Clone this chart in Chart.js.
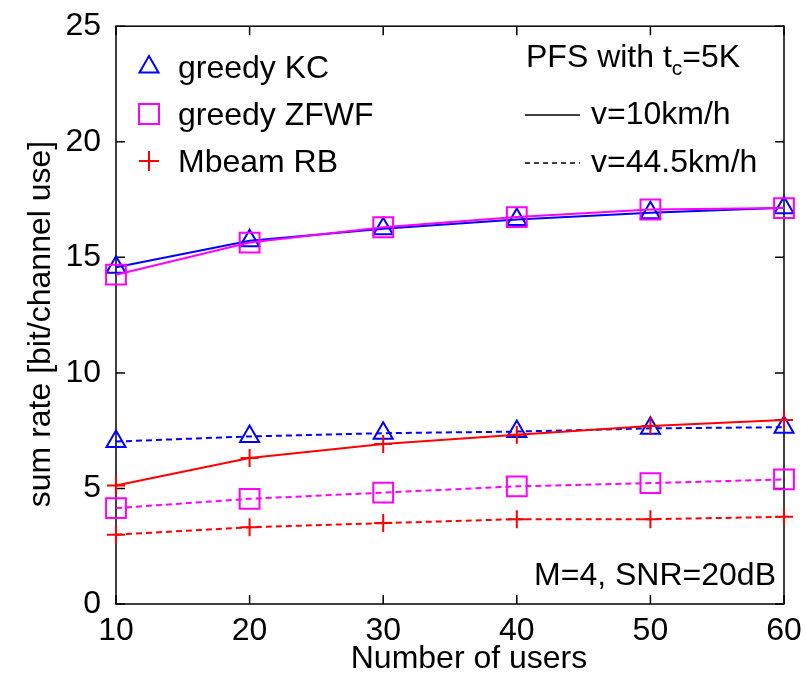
<!DOCTYPE html>
<html lang="en">
<head>
  <meta charset="UTF-8" />
  <title>Sum rate vs number of users</title>
  <script src="https://cdn.jsdelivr.net/npm/chart.js"></script>
  <style>
    body { margin: 0; background: #fff; }
    #wrap { position: relative; width: 806px; height: 673px; }
  </style>
</head>
<body>
  <div id="wrap"><canvas id="rateChart"></canvas></div>

  <script>
    // number of users on the x axis
    const users = [10, 20, 30, 40, 50, 60];

    // v = 10 km/h (solid)
    const kcSlow    = [14.57, 15.72, 16.24, 16.64, 16.93, 17.15];
    const zfwfSlow  = [14.25, 15.64, 16.30, 16.74, 17.07, 17.13];
    const mbeamSlow = [5.13, 6.32, 6.92, 7.32, 7.70, 7.96];

    // v = 44.5 km/h (dashed)
    const kcFast    = [7.03, 7.25, 7.39, 7.46, 7.60, 7.65];
    const zfwfFast  = [4.15, 4.55, 4.82, 5.09, 5.23, 5.39];
    const mbeamFast = [3.00, 3.32, 3.50, 3.67, 3.67, 3.77];

    const xTicks = [10, 20, 30, 40, 50, 60];
    const yTicks = [0, 5, 10, 15, 20, 25];

    const BLUE = '#0000ff', MAGENTA = '#ff00ff', RED = '#ff0000';
    const FONT = "'Liberation Sans', Arial, sans-serif";
    const DASH = [6, 4];

    const toPoints = vals => users.map((u, i) => ({ x: u, y: vals[i] }));

    function series(label, vals, color, style, radius, dashed) {
      return {
        label: label,
        data: toPoints(vals),
        borderColor: color,
        borderWidth: 2,
        borderDash: dashed ? DASH : [],
        pointStyle: style,
        pointRadius: radius,
        pointBorderColor: color,
        pointBackgroundColor: 'rgba(0,0,0,0)',
        pointBorderWidth: 2,
        fill: false,
        tension: 0,
        clip: false
      };
    }

    // box, inward ticks on all four sides, axis titles
    const framePlugin = {
      id: 'frame',
      beforeDatasetsDraw(chart) {
        const { ctx, chartArea: a, scales } = chart;
        const len = 9;
        ctx.save();
        ctx.strokeStyle = '#000';
        ctx.lineWidth = 1.5;
        ctx.strokeRect(a.left, a.top, a.right - a.left, a.bottom - a.top);
        ctx.beginPath();
        xTicks.forEach(v => {
          const px = scales.x.getPixelForValue(v);
          ctx.moveTo(px, a.bottom); ctx.lineTo(px, a.bottom - len);
          ctx.moveTo(px, a.top); ctx.lineTo(px, a.top + len);
        });
        yTicks.forEach(v => {
          const py = scales.y.getPixelForValue(v);
          ctx.moveTo(a.left, py); ctx.lineTo(a.left + len, py);
          ctx.moveTo(a.right, py); ctx.lineTo(a.right - len, py);
        });
        ctx.stroke();

        ctx.fillStyle = '#000';
        ctx.font = '32px ' + FONT;
        ctx.textAlign = 'center';
        ctx.textBaseline = 'alphabetic';
        ctx.fillText('Number of users', 469, 668);
        ctx.translate(50, 324);
        ctx.rotate(-Math.PI / 2);
        ctx.fillText('sum rate [bit/channel use]', 0, 0);
        ctx.restore();
      },
      afterDraw(chart) {
        const ctx = chart.ctx;
        ctx.save();
        ctx.lineWidth = 2;
        ctx.fillStyle = '#000';
        ctx.font = '32px ' + FONT;
        ctx.textBaseline = 'alphabetic';
        ctx.textAlign = 'left';

        // marker legend
        const markers = [
          ['greedy KC', BLUE, 'triangle', 67, 78],
          ['greedy ZFWF', MAGENTA, 'rect', 114, 125],
          ['Mbeam RB', RED, 'cross', 161, 172]
        ];
        markers.forEach(([text, color, style, my, by]) => {
          drawMarker(ctx, style, 149, my, color);
          ctx.fillStyle = '#000';
          ctx.fillText(text, 178, by);
        });

        // speed legend
        ctx.fillText('PFS with t', 526, 67);
        let w = ctx.measureText('PFS with t').width;
        ctx.font = '21px ' + FONT;
        ctx.fillText('c', 526 + w, 75);
        w += ctx.measureText('c').width;
        ctx.font = '32px ' + FONT;
        ctx.fillText('=5K', 526 + w, 67);

        ctx.strokeStyle = '#000';
        ctx.lineWidth = 1.5;
        ctx.beginPath();
        ctx.moveTo(525, 115); ctx.lineTo(580, 115);
        ctx.stroke();
        ctx.setLineDash([5, 4]);
        ctx.beginPath();
        ctx.moveTo(525, 163); ctx.lineTo(580, 163);
        ctx.stroke();
        ctx.setLineDash([]);
        ctx.fillText('v=10km/h', 591, 124);
        ctx.fillText('v=44.5km/h', 591, 172);

        ctx.textAlign = 'right';
        ctx.fillText('M=4, SNR=20dB', 776, 585);
        ctx.restore();
      }
    };

    function drawMarker(ctx, style, x, y, color) {
      ctx.save();
      ctx.strokeStyle = color;
      ctx.lineWidth = 2;
      ctx.beginPath();
      if (style === 'triangle') {
        const r = 11;
        ctx.moveTo(x, y - r);
        ctx.lineTo(x + r * Math.sin(2 * Math.PI / 3), y + r / 2);
        ctx.lineTo(x - r * Math.sin(2 * Math.PI / 3), y + r / 2);
        ctx.closePath();
      } else if (style === 'rect') {
        const s = 10;
        ctx.rect(x - s, y - s, 2 * s, 2 * s);
      } else {
        const r = 10;
        ctx.moveTo(x - r, y); ctx.lineTo(x + r, y);
        ctx.moveTo(x, y - r); ctx.lineTo(x, y + r);
      }
      ctx.stroke();
      ctx.restore();
    }

    Chart.defaults.font.family = FONT;
    Chart.defaults.color = '#000';

    const ctx = document.getElementById('rateChart').getContext('2d');
    window.myChart = new Chart(ctx, {
      type: 'line',
      data: {
        datasets: [
          series('greedy ZFWF', zfwfSlow, MAGENTA, 'rect', 14, false),
          series('greedy KC', kcSlow, BLUE, 'triangle', 11, false),
          series('Mbeam RB', mbeamSlow, RED, 'cross', 9, false),
          series('greedy KC', kcFast, BLUE, 'triangle', 11, true),
          series('greedy ZFWF', zfwfFast, MAGENTA, 'rect', 14, true),
          series('Mbeam RB', mbeamFast, RED, 'cross', 9, true)
        ]
      },
      options: {
        responsive: true,
        maintainAspectRatio: false,
        animation: false,
        layout: { padding: { top: 21, right: 22, left: 0, bottom: 0 } },
        scales: {
          x: {
            type: 'linear',
            min: 10,
            max: 60,
            afterBuildTicks: s => { s.ticks = xTicks.map(v => ({ value: v })); },
            afterFit: s => { s.height = 69; },
            ticks: { font: { size: 32 }, padding: 0, autoSkip: false, maxRotation: 0 },
            grid: { display: false },
            border: { display: false }
          },
          y: {
            min: 0,
            max: 25,
            afterBuildTicks: s => { s.ticks = yTicks.map(v => ({ value: v })); },
            afterFit: s => { s.width = 116; },
            ticks: { font: { size: 32 }, padding: 7, autoSkip: false },
            grid: { display: false },
            border: { display: false }
          }
        },
        plugins: {
          legend: { display: false },
          tooltip: { enabled: false }
        }
      },
      plugins: [framePlugin]
    });
  </script>
</body>
</html>
